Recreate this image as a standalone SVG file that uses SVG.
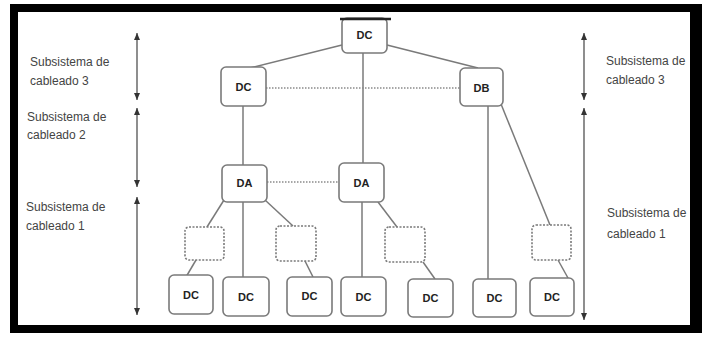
<svg xmlns="http://www.w3.org/2000/svg" width="707" height="337" viewBox="0 0 707 337">
<style>
.node{fill:#fff;stroke:#7a7a7a;stroke-width:1.6}
.dash{fill:#fff;stroke:#7a7a7a;stroke-width:1.6;stroke-dasharray:2 1.5}
.nt{font-family:"Liberation Sans",Arial,sans-serif;font-size:11px;font-weight:bold;fill:#222;text-anchor:middle;dominant-baseline:central}
.lbl{font-family:"Liberation Sans",Arial,sans-serif;font-size:12px;fill:#444}
.ln{stroke:#7a7a7a;stroke-width:1.5;fill:none}
.dot{stroke:#8a8a8a;stroke-width:1.3;stroke-dasharray:1.5 1.5;fill:none}
.ar{stroke:#444;stroke-width:1.2;fill:none;marker-start:url(#ah);marker-end:url(#ah)}
</style>
<defs>
<marker id="ah" markerUnits="userSpaceOnUse" markerWidth="8" markerHeight="8" refX="7" refY="4" orient="auto-start-reverse">
<path d="M0,1 L7,4 L0,7 Z" fill="#333"/>
</marker>
</defs>
<rect x="0" y="0" width="707" height="337" fill="#fff"/>
<rect x="10" y="4" width="692" height="329" fill="#000"/>
<rect x="18" y="12" width="672" height="313" fill="#fff"/>
<g id="connectors">
<line class="ln" x1="342" y1="45" x2="250" y2="68"/>
<line class="ln" x1="387" y1="45" x2="478" y2="68"/>
<line class="ln" x1="363" y1="53" x2="363" y2="163"/>
<line class="dot" x1="266" y1="88" x2="460" y2="88"/>
<line class="ln" x1="243" y1="106" x2="243" y2="165"/>
<line class="dot" x1="267" y1="182" x2="339" y2="182"/>
<line class="ln" x1="224" y1="200" x2="207" y2="227"/>
<line class="ln" x1="196" y1="260" x2="186" y2="277"/>
<line class="ln" x1="243" y1="202" x2="243" y2="277"/>
<line class="ln" x1="265" y1="200" x2="293" y2="226"/>
<line class="ln" x1="305" y1="261" x2="313" y2="277"/>
<line class="ln" x1="362" y1="202" x2="362" y2="277"/>
<line class="ln" x1="378" y1="202" x2="397" y2="227"/>
<line class="ln" x1="423" y1="262" x2="435" y2="279"/>
<line class="ln" x1="488" y1="106" x2="488" y2="279"/>
<line class="ln" x1="501" y1="104" x2="550" y2="225"/>
<line class="ln" x1="558" y1="260" x2="568" y2="278"/>
</g>
<g id="arrows">
<line class="ar" x1="137" y1="33" x2="137" y2="100"/>
<line class="ar" x1="137" y1="108" x2="137" y2="187"/>
<line class="ar" x1="137" y1="197" x2="137" y2="315"/>
<line class="ar" x1="584" y1="33" x2="584" y2="100"/>
<line class="ar" x1="584" y1="108" x2="584" y2="320"/>
</g>
<g id="labels">
<text class="lbl" x="30" y="66">Subsistema de</text>
<text class="lbl" x="30" y="85">cableado 3</text>
<text class="lbl" x="27" y="121">Subsistema de</text>
<text class="lbl" x="27" y="139">cableado 2</text>
<text class="lbl" x="26" y="211">Subsistema de</text>
<text class="lbl" x="26" y="230">cableado 1</text>
<text class="lbl" x="606" y="65">Subsistema de</text>
<text class="lbl" x="606" y="84">cableado 3</text>
<text class="lbl" x="607" y="217">Subsistema de</text>
<text class="lbl" x="607" y="238">cableado 1</text>
</g>
<g id="n-top"><rect class="node" x="342" y="18" width="45" height="35" rx="5"/><line x1="340" y1="19" x2="391" y2="19" stroke="#222" stroke-width="2.5"/><text class="nt" x="364.5" y="35">DC</text></g>
<g id="n-dc2"><rect class="node" x="221" y="67" width="45" height="39" rx="5"/><text class="nt" x="243.5" y="87">DC</text></g>
<g id="n-db"><rect class="node" x="460" y="68" width="43" height="38" rx="5"/><text class="nt" x="481.5" y="88">DB</text></g>
<g id="n-da1"><rect class="node" x="222" y="165" width="45" height="37" rx="5"/><text class="nt" x="244.5" y="183">DA</text></g>
<g id="n-da2"><rect class="node" x="339" y="163" width="45" height="39" rx="5"/><text class="nt" x="361.5" y="183">DA</text></g>
<g id="n-x1"><rect class="dash" x="185" y="227" width="39" height="33" rx="4"/></g>
<g id="n-x2"><rect class="dash" x="276" y="226" width="40" height="35" rx="4"/></g>
<g id="n-x3"><rect class="dash" x="385" y="227" width="40" height="35" rx="4"/></g>
<g id="n-x4"><rect class="dash" x="532" y="225" width="39" height="35" rx="4"/></g>
<g id="n-c1"><rect class="node" x="169" y="275" width="44" height="39" rx="5"/><text class="nt" x="191" y="295">DC</text></g>
<g id="n-c2"><rect class="node" x="223" y="277" width="46" height="39" rx="5"/><text class="nt" x="246" y="297">DC</text></g>
<g id="n-c3"><rect class="node" x="287" y="277" width="45" height="39" rx="5"/><text class="nt" x="309.5" y="296">DC</text></g>
<g id="n-c4"><rect class="node" x="341" y="277" width="45" height="39" rx="5"/><text class="nt" x="363.5" y="297">DC</text></g>
<g id="n-c5"><rect class="node" x="408" y="279" width="45" height="38" rx="5"/><text class="nt" x="430.5" y="298">DC</text></g>
<g id="n-c6"><rect class="node" x="473" y="279" width="43" height="38" rx="5"/><text class="nt" x="494.5" y="298">DC</text></g>
<g id="n-c7"><rect class="node" x="530" y="278" width="44" height="38" rx="5"/><text class="nt" x="552" y="297">DC</text></g>
</svg>
